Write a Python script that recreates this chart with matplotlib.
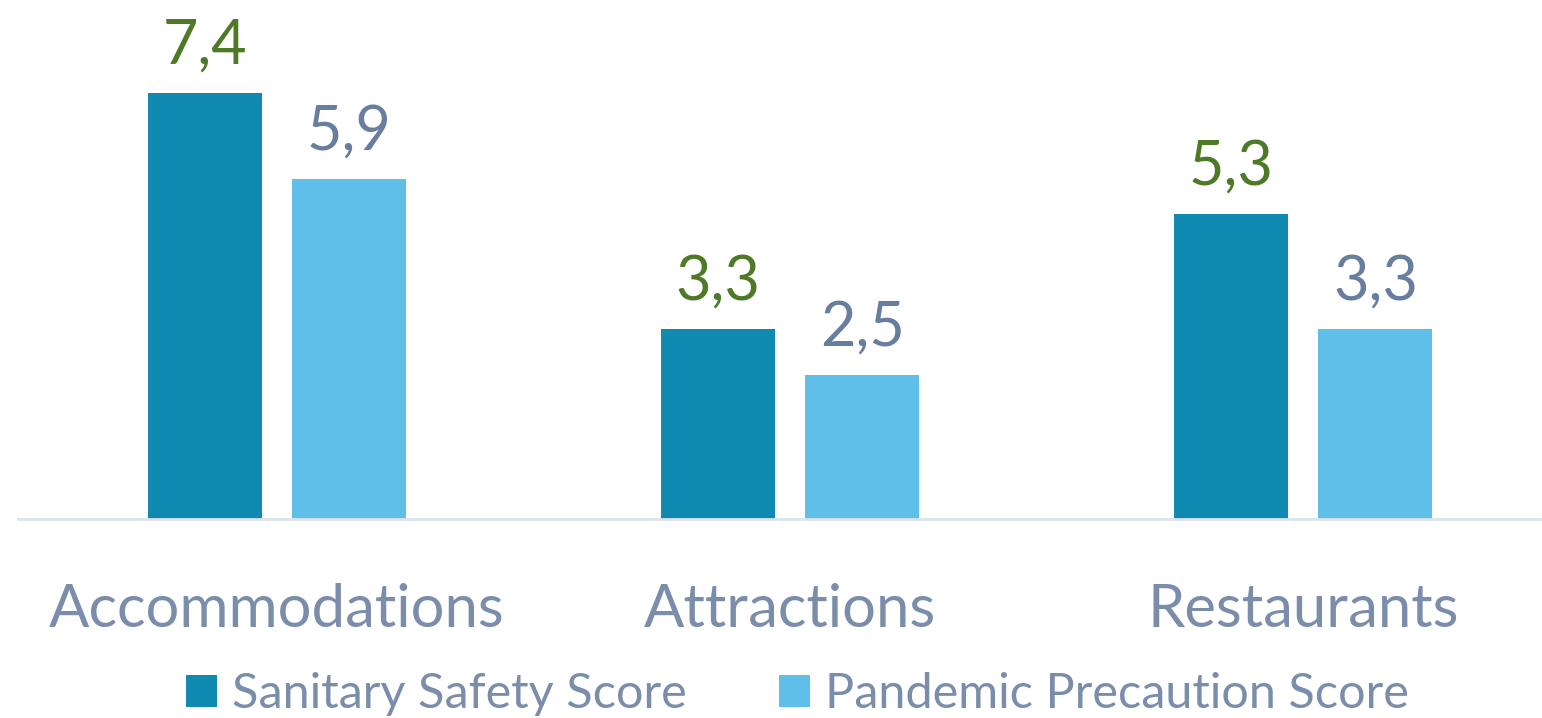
import matplotlib.pyplot as plt
import numpy as np

plt.rcParams['font.family'] = ['Lato', 'DejaVu Sans']

# Chart data
categories = ['Accommodations', 'Attractions', 'Restaurants']
series_names = ['Sanitary Safety Score', 'Pandemic Precaution Score']
sanitary = [7.4, 3.3, 5.3]
pandemic = [5.9, 2.5, 3.3]

dark_blue = '#118AB2'
light_blue = '#60BFE9'
green_txt = '#4E7A27'
slate_txt = '#687E9E'
cat_txt = '#7A8DAA'

fig = plt.figure(figsize=(15.42, 7.18), dpi=100)
ax = fig.add_axes([18 / 1542, 1 - 519 / 718, (1540 - 18) / 1542, (519 - 58) / 718])

x = np.arange(len(categories))
width = 0.222
offset = (width + 0.06) / 2

bars1 = ax.bar(x - offset, sanitary, width, color=dark_blue, label=series_names[0])
bars2 = ax.bar(x + offset, pandemic, width, color=light_blue, label=series_names[1])

for bar, v in zip(bars1, sanitary):
    ax.text(bar.get_x() + bar.get_width() / 2, v + 0.32, f'{v:.1f}'.replace('.', ','),
            ha='center', va='bottom', fontsize=44, color=green_txt)
for bar, v in zip(bars2, pandemic):
    ax.text(bar.get_x() + bar.get_width() / 2, v + 0.32, f'{v:.1f}'.replace('.', ','),
            ha='center', va='bottom', fontsize=44, color=slate_txt)

ax.set_xlim(-0.505, 2.462)
ax.set_ylim(0, 8)
ax.set_yticks([])
ax.set_xticks(x)
ax.set_xticklabels(categories, fontsize=43, color=cat_txt)
ax.tick_params(axis='x', length=0, pad=46)
for s in ['top', 'right', 'left']:
    ax.spines[s].set_visible(False)
ax.spines['bottom'].set_color('#DDE3EA')
ax.spines['bottom'].set_linewidth(2)

leg = fig.legend(loc='center', bbox_to_anchor=(0.517, 1 - 694 / 718), ncol=2, frameon=False,
                 fontsize=35, handlelength=0.65, handleheight=0.65, handletextpad=0.3,
                 columnspacing=1.9)
for t in leg.get_texts():
    t.set_color(cat_txt)

fig.savefig('out.png', dpi=100)
